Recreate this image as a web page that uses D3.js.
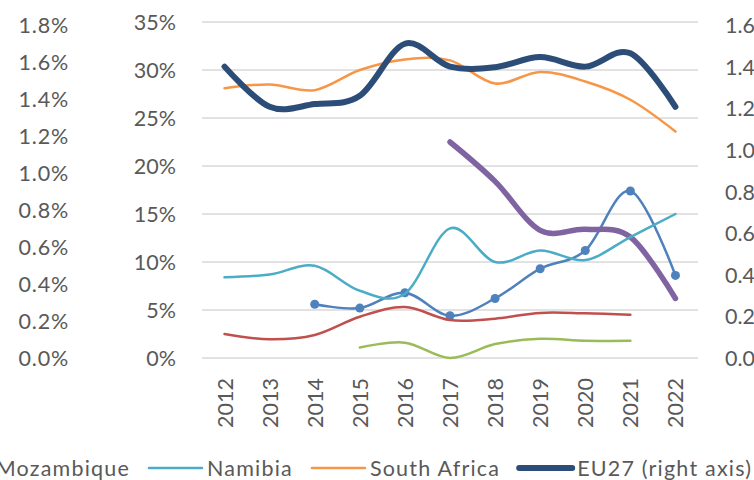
<!DOCTYPE html>
<html>
<head>
<meta charset="utf-8">
<script src="https://cdn.jsdelivr.net/npm/d3@7"></script>
<style>
  body { margin: 0; background: #fff; }
  svg { display: block; font-family: Lato, "Open Sans", sans-serif; }
  text { fill: #595959; }
</style>
</head>
<body>
<div id="d3-container"></div>
<script>
/**
 * CONSTANTS AND GLOBALS
 * */
const width = 754,
  height = 480,
  plot = { left: 202, right: 698, top: 22, bottom: 358 };

// DATA
const years = [2012, 2013, 2014, 2015, 2016, 2017, 2018, 2019, 2020, 2021, 2022];
const pctTicks = [0, 5, 10, 15, 20, 25, 30, 35];
const farLeftTicks = [0, 0.2, 0.4, 0.6, 0.8, 1.0, 1.2, 1.4, 1.6, 1.8];
const rightTicks = [0, 0.2, 0.4, 0.6, 0.8, 1.0, 1.2, 1.4, 1.6];

// series on the % axis (null = no value)
const blueMarked = [null, null, 5.6, 5.2, 6.8, 4.4, 6.2, 9.3, 11.2, 17.4, 8.6];
const redSeries = [2.5, 1.95, 2.4, 4.3, 5.3, 3.95, 4.1, 4.7, 4.65, 4.5, null];
const greenSeries = [null, null, null, 1.1, 1.6, 0.0, 1.45, 2.0, 1.8, 1.8, null];
const mozambique = [null, null, null, null, null, 22.5, 18.4, 13.3, 13.4, 12.6, 6.2];
const namibia = [8.4, 8.7, 9.6, 7.0, 6.7, 13.5, 10.0, 11.2, 10.2, 12.6, 15.0];
const southAfrica = [28.1, 28.5, 27.9, 30.0, 31.1, 31.0, 28.6, 29.8, 28.8, 26.9, 23.6];
// right axis
const eu27 = [1.40, 1.207, 1.22, 1.26, 1.51, 1.40, 1.397, 1.446, 1.40, 1.464, 1.207];

const series = [
  { name: null, values: blueMarked, color: "#4f81bd", w: 2.5, axis: "pct", markers: true },
  { name: null, values: redSeries, color: "#c0504d", w: 2.5, axis: "pct" },
  { name: null, values: greenSeries, color: "#9bbb59", w: 2.5, axis: "pct" },
  { name: "Mozambique", values: mozambique, color: "#8064a2", w: 5.5, axis: "pct" },
  { name: "Namibia", values: namibia, color: "#4bacc6", w: 2.5, axis: "pct" },
  { name: "South Africa", values: southAfrica, color: "#f79646", w: 2.5, axis: "pct" },
  { name: "EU27 (right axis)", values: eu27, color: "#2c4d78", w: 6, axis: "right" },
];

let svg;

init();

function init() {
  svg = d3.select("#d3-container")
    .append("svg")
    .attr("width", width)
    .attr("height", height);

  const x = d3.scalePoint()
    .domain(years)
    .range([plot.left, plot.right])
    .padding(0.5);

  const yPct = d3.scaleLinear().domain([0, 35]).range([plot.bottom, plot.top]);
  const yFar = d3.scaleLinear().domain([0, 1.8]).range([357.7, 24.7]);
  const yRight = d3.scaleLinear().domain([0, 1.6]).range([plot.bottom, 25]);

  // gridlines
  svg.append("g")
    .selectAll("line")
    .data(pctTicks)
    .join("line")
    .attr("x1", plot.left)
    .attr("x2", plot.right)
    .attr("y1", d => yPct(d))
    .attr("y2", d => yPct(d))
    .attr("stroke", "#d9d9d9")
    .attr("stroke-width", 1.5);

  // % axis
  svg.append("g")
    .selectAll("text")
    .data(pctTicks)
    .join("text")
    .attr("x", 176)
    .attr("y", d => yPct(d))
    .attr("text-anchor", "end")
    .attr("dominant-baseline", "central")
    .attr("font-size", 21.5)
    .text(d => d + "%");

  // far left axis
  svg.append("g")
    .selectAll("text")
    .data(farLeftTicks)
    .join("text")
    .attr("x", 69)
    .attr("y", d => yFar(d))
    .attr("text-anchor", "end")
    .attr("dominant-baseline", "central")
    .attr("font-size", 21.5)
    .attr("letter-spacing", 0.8)
    .text(d => d3.format(".1f")(d) + "%");

  // right axis
  svg.append("g")
    .selectAll("text")
    .data(rightTicks)
    .join("text")
    .attr("x", 725)
    .attr("y", d => yRight(d))
    .attr("dominant-baseline", "central")
    .attr("font-size", 21.5)
    .text(d => d3.format(".1f")(d));

  // x labels (rotated)
  svg.append("g")
    .selectAll("text")
    .data(years)
    .join("text")
    .attr("transform", d => `translate(${x(d)},378) rotate(-90)`)
    .attr("text-anchor", "end")
    .attr("dominant-baseline", "central")
    .attr("font-size", 21.5)
    .text(d => d);

  // lines
  const line = yScale => d3.line()
    .defined(d => d.v != null)
    .x(d => x(d.year))
    .y(d => yScale(d.v))
    .curve(d3.curveCatmullRom.alpha(0));

  series.forEach(s => {
    const yScale = s.axis === "right" ? yRight : yPct;
    const pts = years.map((year, i) => ({ year, v: s.values[i] }));
    svg.append("path")
      .datum(pts)
      .attr("fill", "none")
      .attr("stroke", s.color)
      .attr("stroke-width", s.w)
      .attr("stroke-linecap", "round")
      .attr("stroke-linejoin", "round")
      .attr("d", line(yScale));

    if (s.markers) {
      svg.append("g")
        .selectAll("circle")
        .data(pts.filter(d => d.v != null))
        .join("circle")
        .attr("cx", d => x(d.year))
        .attr("cy", d => yScale(d.v))
        .attr("r", 4.5)
        .attr("fill", s.color);
    }
  });

  // legend (only part of it fits in the picture, as in the original)
  const legendItems = series.filter(s => s.name);
  const legend = svg.append("g");
  const items = legend.selectAll("g")
    .data(legendItems)
    .join("g");
  items.append("line")
    .attr("x1", 0).attr("x2", 53)
    .attr("y1", 0).attr("y2", 0)
    .attr("stroke", d => d.color)
    .attr("stroke-width", d => d.w)
    .attr("stroke-linecap", "round");
  items.append("text")
    .attr("x", 58)
    .attr("dominant-baseline", "central")
    .attr("font-size", 21.5)
    .attr("letter-spacing", 1.2)
    .text(d => d.name);

  // flow the items, Namibia's line starts at x=149
  const widths = items.nodes().map(n => 58 + n.querySelector("text").getComputedTextLength() + 19);
  let pos = 149 - widths[0];
  items.attr("transform", (d, i) => {
    const t = `translate(${pos},468)`;
    pos += widths[i];
    return t;
  });
}
</script>
</body>
</html>
